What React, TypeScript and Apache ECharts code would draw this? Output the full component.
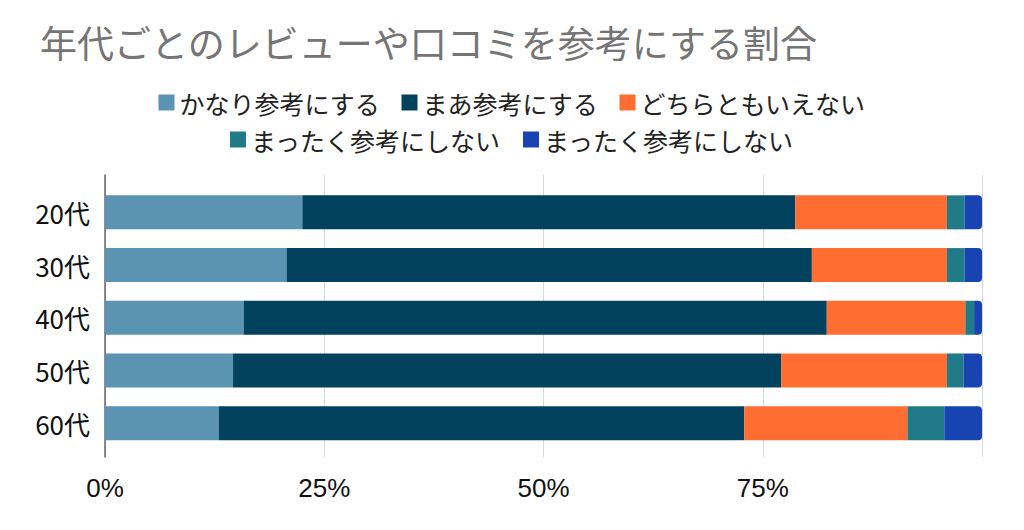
import React, { useEffect, useRef } from "react";
import * as echarts from "echarts";

const title = "年代ごとのレビューや口コミを参考にする割合";
const categories = ["20代", "30代", "40代", "50代", "60代"];
const seriesLabels = [
  "かなり参考にする",
  "まあ参考にする",
  "どちらともいえない",
  "まったく参考にしない",
  "まったく参考にしない",
];
const seriesKeys = ["s1", "s2", "s3", "s4", "s5"];
const colors = ["#5b93b3", "#03425f", "#ff6d31", "#217a87", "#1744b0"];
const veryMuch = [22.5, 20.7, 15.8, 14.6, 13.0];
const somewhat = [56.2, 59.9, 66.5, 62.5, 59.9];
const neutral = [17.3, 15.4, 15.8, 18.9, 18.6];
const notAtAll1 = [2.0, 2.0, 1.0, 1.9, 4.2];
const notAtAll2 = [2.0, 2.0, 0.9, 2.1, 4.3];
const values = [veryMuch, somewhat, neutral, notAtAll1, notAtAll2];
const xTicks = [0, 25, 50, 75, 100];

const FONT = '"Noto Sans CJK JP", "Noto Sans", sans-serif';

export default function App() {
  const ref = useRef<HTMLDivElement>(null);
  useEffect(() => {
    if (!ref.current) return;
    const chart = echarts.init(ref.current, undefined, { renderer: "svg" });
    const labelOf = (name: string) => seriesLabels[seriesKeys.indexOf(name)] ?? name;
    const legendBase = {
      left: "center",
      icon: "rect",
      itemWidth: 16,
      itemHeight: 16,
      itemGap: 22,
      formatter: labelOf,
      textStyle: { fontSize: 25, color: "#222", fontFamily: FONT },
    };
    chart.setOption({
      animation: false,
      textStyle: { fontFamily: FONT },
      title: {
        text: title,
        left: 35,
        top: 18,
        textStyle: { fontSize: 37, fontWeight: "normal", color: "#757575", fontFamily: FONT },
      },
      legend: [
        { ...legendBase, data: seriesKeys.slice(0, 3), top: 85 },
        { ...legendBase, data: seriesKeys.slice(3), top: 122 },
      ],
      grid: [
        { left: 105, right: 42, top: 175, bottom: 73 },
        { left: 105, right: 42, top: 186, bottom: 80.5 },
      ],
      xAxis: [
        {
          gridIndex: 0,
          type: "value",
          min: xTicks[0],
          max: xTicks[xTicks.length - 1],
          interval: xTicks[1] - xTicks[0],
          axisLine: { show: false },
          axisTick: { show: false },
          splitLine: { show: true, lineStyle: { color: "#d9d9d9", width: 1 } },
          axisLabel: {
            showMaxLabel: false,
            formatter: (v: number) => `${v}%`,
            fontSize: 26,
            color: "#111",
            margin: 18,
            fontFamily: '"Liberation Sans Narrow", "Liberation Sans", sans-serif',
          },
        },
        {
          gridIndex: 1,
          type: "value",
          min: 0,
          max: 100,
          show: false,
        },
      ],
      yAxis: [
        {
          gridIndex: 0,
          type: "value",
          min: 0,
          max: 1,
          axisLine: { show: true, lineStyle: { color: "#666", width: 1.5 } },
          axisTick: { show: false },
          axisLabel: { show: false },
          splitLine: { show: false },
        },
        {
          gridIndex: 1,
          type: "category",
          data: categories,
          inverse: true,
          axisLine: { show: false },
          axisTick: { show: false },
          axisLabel: { fontSize: 26, color: "#111", margin: 15, fontFamily: FONT },
        },
      ],
      series: seriesKeys.map((key, i) => ({
        name: key,
        type: "bar",
        stack: "total",
        xAxisIndex: 1,
        yAxisIndex: 1,
        barWidth: 34,
        data: values[i],
        itemStyle: {
          color: colors[i],
          borderRadius: i === seriesKeys.length - 1 ? [0, 4, 4, 0] : 0,
        },
      })),
    });
    return () => chart.dispose();
  }, []);
  return (
    <div
      ref={ref}
      style={{ position: "absolute", left: 0, top: 0, width: 1024, height: 530 }}
    />
  );
}
